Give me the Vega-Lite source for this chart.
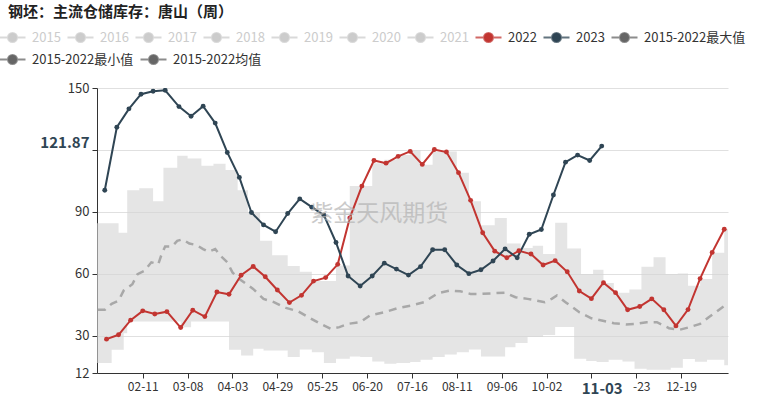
{
  "$schema": "https://vega.github.io/schema/vega-lite/v6.json",
  "width": 631,
  "height": 285,
  "autosize": {"type": "none"},
  "padding": {"left": 97, "top": 88, "right": 32, "bottom": 24},
  "background": "#ffffff",
  "config": {
    "font": "Noto Sans CJK SC",
    "view": {"stroke": null}
  },
  "title": {
    "text": "钢坯：主流仓储库存：唐山（周）",
    "anchor": "start",
    "frame": "group",
    "dx": -89,
    "dy": -7,
    "fontSize": 15,
    "fontWeight": "bold",
    "color": "#222222",
    "font": "Noto Sans CJK SC"
  },
  "datasets": {
    "band": [
      {"d": "2024-01-15", "value": 84.5, "low": 16.8},
      {"d": "2024-01-24", "value": 84.5, "low": 23.3},
      {"d": "2024-01-28", "value": 79.9, "low": 23.3},
      {"d": "2024-01-31", "value": 79.9, "low": 31.3},
      {"d": "2024-02-02", "value": 100.5, "low": 36.9},
      {"d": "2024-02-09", "value": 101.4, "low": 36.9},
      {"d": "2024-02-17", "value": 95.2, "low": 36.9},
      {"d": "2024-02-23", "value": 111.4, "low": 36.9},
      {"d": "2024-03-02", "value": 117.2, "low": 36.9},
      {"d": "2024-03-04", "value": 117.2, "low": 34.2},
      {"d": "2024-03-08", "value": 115.9, "low": 34.2},
      {"d": "2024-03-10", "value": 115.9, "low": 36.9},
      {"d": "2024-03-16", "value": 112.4, "low": 36.9},
      {"d": "2024-03-23", "value": 113.3, "low": 36.9},
      {"d": "2024-03-30", "value": 110.3, "low": 36.9},
      {"d": "2024-04-01", "value": 110.3, "low": 23.3},
      {"d": "2024-04-06", "value": 100.5, "low": 23.3},
      {"d": "2024-04-08", "value": 100.5, "low": 20.5},
      {"d": "2024-04-12", "value": 89.7, "low": 20.5},
      {"d": "2024-04-15", "value": 89.7, "low": 23.7},
      {"d": "2024-04-19", "value": 76, "low": 23.7},
      {"d": "2024-04-21", "value": 76, "low": 22.9},
      {"d": "2024-04-26", "value": 69, "low": 22.9},
      {"d": "2024-05-05", "value": 63.8, "low": 19.7},
      {"d": "2024-05-12", "value": 61, "low": 23.4},
      {"d": "2024-05-19", "value": 56.5, "low": 22.1},
      {"d": "2024-05-26", "value": 56.5, "low": 16.8},
      {"d": "2024-06-02", "value": 64, "low": 18.9},
      {"d": "2024-06-10", "value": 102.5, "low": 20},
      {"d": "2024-06-16", "value": 102.5, "low": 19.7},
      {"d": "2024-06-23", "value": 113.6, "low": 17.6},
      {"d": "2024-06-30", "value": 115.3, "low": 16.5},
      {"d": "2024-07-07", "value": 117.5, "low": 16.8},
      {"d": "2024-07-15", "value": 119.8, "low": 17.3},
      {"d": "2024-07-21", "value": 112.8, "low": 18.4},
      {"d": "2024-07-28", "value": 119.3, "low": 19.7},
      {"d": "2024-08-04", "value": 119.3, "low": 21},
      {"d": "2024-08-11", "value": 109, "low": 22.1},
      {"d": "2024-08-18", "value": 95.2, "low": 23.4},
      {"d": "2024-08-25", "value": 83.6, "low": 20},
      {"d": "2024-09-02", "value": 87, "low": 20},
      {"d": "2024-09-08", "value": 87, "low": 24.5},
      {"d": "2024-09-09", "value": 74.7, "low": 24.5},
      {"d": "2024-09-14", "value": 74.7, "low": 26.5},
      {"d": "2024-09-17", "value": 72.5, "low": 26.5},
      {"d": "2024-09-21", "value": 72.5, "low": 29.4},
      {"d": "2024-09-24", "value": 73.6, "low": 29.4},
      {"d": "2024-09-30", "value": 69.6, "low": 30.4},
      {"d": "2024-10-07", "value": 84.7, "low": 34.3},
      {"d": "2024-10-14", "value": 72.3, "low": 34.3},
      {"d": "2024-10-18", "value": 72.3, "low": 18.9},
      {"d": "2024-10-22", "value": 59.9, "low": 18.9},
      {"d": "2024-10-25", "value": 59.9, "low": 17.8},
      {"d": "2024-10-29", "value": 62, "low": 17.8},
      {"d": "2024-10-31", "value": 62, "low": 17.3},
      {"d": "2024-11-04", "value": 55.6, "low": 17.3},
      {"d": "2024-11-07", "value": 55.6, "low": 18.4},
      {"d": "2024-11-10", "value": 50.8, "low": 18.4},
      {"d": "2024-11-15", "value": 50.8, "low": 17.6},
      {"d": "2024-11-19", "value": 52.4, "low": 17.6},
      {"d": "2024-11-22", "value": 52.4, "low": 14.1},
      {"d": "2024-11-26", "value": 63.5, "low": 14.1},
      {"d": "2024-11-29", "value": 63.5, "low": 13.6},
      {"d": "2024-12-03", "value": 68, "low": 13.6},
      {"d": "2024-12-10", "value": 59.9, "low": 13.6},
      {"d": "2024-12-13", "value": 59.9, "low": 14.6},
      {"d": "2024-12-17", "value": 60.2, "low": 14.6},
      {"d": "2024-12-20", "value": 60.2, "low": 18.8},
      {"d": "2024-12-23", "value": 54.3, "low": 18.8},
      {"d": "2024-12-27", "value": 54.3, "low": 17.5},
      {"d": "2024-12-30", "value": 57.5, "low": 17.5},
      {"d": "2025-01-03", "value": 57.5, "low": 18.4},
      {"d": "2025-01-06", "value": 70.2, "low": 18.4},
      {"d": "2025-01-13", "value": 81.6, "low": 15.7},
      {"d": "2025-01-16", "value": 81.6, "low": 15.7}
    ],
    "mean": [
      {"d": "2024-01-16", "value": 42.6}, {"d": "2024-01-20", "value": 42.6}, {"d": "2024-01-24", "value": 45.5},
      {"d": "2024-01-28", "value": 47}, {"d": "2024-01-31", "value": 52}, {"d": "2024-02-05", "value": 55},
      {"d": "2024-02-08", "value": 59.9}, {"d": "2024-02-12", "value": 61.5}, {"d": "2024-02-16", "value": 65.6},
      {"d": "2024-02-20", "value": 64.7}, {"d": "2024-02-22", "value": 69.6}, {"d": "2024-02-24", "value": 73.3},
      {"d": "2024-02-28", "value": 73.3}, {"d": "2024-03-02", "value": 76}, {"d": "2024-03-05", "value": 76.7},
      {"d": "2024-03-09", "value": 74.7}, {"d": "2024-03-13", "value": 74}, {"d": "2024-03-17", "value": 72},
      {"d": "2024-03-20", "value": 70.7}, {"d": "2024-03-24", "value": 72}, {"d": "2024-03-27", "value": 68.8},
      {"d": "2024-03-31", "value": 65.6}, {"d": "2024-04-03", "value": 60.7}, {"d": "2024-04-07", "value": 57.5},
      {"d": "2024-04-15", "value": 52.7}, {"d": "2024-04-21", "value": 47.9}, {"d": "2024-04-27", "value": 46.3},
      {"d": "2024-05-04", "value": 43.5}, {"d": "2024-05-11", "value": 41.9}, {"d": "2024-05-17", "value": 39},
      {"d": "2024-05-24", "value": 35.8}, {"d": "2024-05-30", "value": 33.4}, {"d": "2024-06-04", "value": 34.2},
      {"d": "2024-06-09", "value": 35.8}, {"d": "2024-06-16", "value": 36.6}, {"d": "2024-06-22", "value": 40},
      {"d": "2024-06-30", "value": 41.4}, {"d": "2024-07-08", "value": 43.5}, {"d": "2024-07-15", "value": 44.6},
      {"d": "2024-07-23", "value": 46.3}, {"d": "2024-07-31", "value": 50.6}, {"d": "2024-08-07", "value": 51.9},
      {"d": "2024-08-13", "value": 51.6}, {"d": "2024-08-19", "value": 50.3}, {"d": "2024-08-25", "value": 50.3},
      {"d": "2024-09-01", "value": 50.6}, {"d": "2024-09-08", "value": 50.9}, {"d": "2024-09-14", "value": 48.7},
      {"d": "2024-09-21", "value": 47.9}, {"d": "2024-10-01", "value": 46.3}, {"d": "2024-10-05", "value": 47.9},
      {"d": "2024-10-08", "value": 49.5}, {"d": "2024-10-13", "value": 46.3}, {"d": "2024-10-21", "value": 41.4},
      {"d": "2024-10-28", "value": 38.5}, {"d": "2024-11-03", "value": 37.4}, {"d": "2024-11-10", "value": 36.1},
      {"d": "2024-11-17", "value": 35.5}, {"d": "2024-11-23", "value": 35.8}, {"d": "2024-11-29", "value": 36.6},
      {"d": "2024-12-05", "value": 36.6}, {"d": "2024-12-12", "value": 33.7}, {"d": "2024-12-18", "value": 32.9},
      {"d": "2024-12-24", "value": 34.2}, {"d": "2024-12-30", "value": 35.8}, {"d": "2025-01-04", "value": 39},
      {"d": "2025-01-08", "value": 41.4}, {"d": "2025-01-14", "value": 45.1}
    ],
    "series": [
      {"d": "2024-01-21", "series": "2022", "value": 28.4}, {"d": "2024-01-28", "series": "2022", "value": 30.5},
      {"d": "2024-02-04", "series": "2022", "value": 37.6}, {"d": "2024-02-11", "series": "2022", "value": 42.1},
      {"d": "2024-02-18", "series": "2022", "value": 40.6}, {"d": "2024-02-25", "series": "2022", "value": 41.7},
      {"d": "2024-03-04", "series": "2022", "value": 34}, {"d": "2024-03-11", "series": "2022", "value": 42.4},
      {"d": "2024-03-18", "series": "2022", "value": 39.3}, {"d": "2024-03-25", "series": "2022", "value": 51.2},
      {"d": "2024-04-01", "series": "2022", "value": 50.1}, {"d": "2024-04-08", "series": "2022", "value": 59.3},
      {"d": "2024-04-15", "series": "2022", "value": 63.6}, {"d": "2024-04-22", "series": "2022", "value": 58.6},
      {"d": "2024-04-29", "series": "2022", "value": 52.2}, {"d": "2024-05-06", "series": "2022", "value": 46.1},
      {"d": "2024-05-13", "series": "2022", "value": 49.6}, {"d": "2024-05-20", "series": "2022", "value": 56.5},
      {"d": "2024-05-27", "series": "2022", "value": 58.2}, {"d": "2024-06-03", "series": "2022", "value": 64.6},
      {"d": "2024-06-10", "series": "2022", "value": 87.1}, {"d": "2024-06-17", "series": "2022", "value": 102.5},
      {"d": "2024-06-24", "series": "2022", "value": 114.9}, {"d": "2024-07-01", "series": "2022", "value": 113.6},
      {"d": "2024-07-08", "series": "2022", "value": 116.9}, {"d": "2024-07-15", "series": "2022", "value": 119.3},
      {"d": "2024-07-22", "series": "2022", "value": 113}, {"d": "2024-07-29", "series": "2022", "value": 120.2},
      {"d": "2024-08-05", "series": "2022", "value": 119}, {"d": "2024-08-12", "series": "2022", "value": 109},
      {"d": "2024-08-19", "series": "2022", "value": 95.6}, {"d": "2024-08-26", "series": "2022", "value": 79.9},
      {"d": "2024-09-02", "series": "2022", "value": 71}, {"d": "2024-09-09", "series": "2022", "value": 67.8},
      {"d": "2024-09-16", "series": "2022", "value": 71.2}, {"d": "2024-09-23", "series": "2022", "value": 69.6},
      {"d": "2024-09-30", "series": "2022", "value": 64.3}, {"d": "2024-10-07", "series": "2022", "value": 66.4},
      {"d": "2024-10-14", "series": "2022", "value": 61}, {"d": "2024-10-21", "series": "2022", "value": 51.7},
      {"d": "2024-10-28", "series": "2022", "value": 48}, {"d": "2024-11-04", "series": "2022", "value": 55.7},
      {"d": "2024-11-11", "series": "2022", "value": 50.9}, {"d": "2024-11-18", "series": "2022", "value": 42.6},
      {"d": "2024-11-25", "series": "2022", "value": 44.2}, {"d": "2024-12-02", "series": "2022", "value": 47.9},
      {"d": "2024-12-09", "series": "2022", "value": 42.6}, {"d": "2024-12-16", "series": "2022", "value": 34.8},
      {"d": "2024-12-23", "series": "2022", "value": 42.7}, {"d": "2024-12-30", "series": "2022", "value": 57.7},
      {"d": "2025-01-06", "series": "2022", "value": 70.4}, {"d": "2025-01-13", "series": "2022", "value": 81.6},
      {"d": "2024-01-20", "series": "2023", "value": 100.5}, {"d": "2024-01-27", "series": "2023", "value": 131},
      {"d": "2024-02-03", "series": "2023", "value": 139.9}, {"d": "2024-02-10", "series": "2023", "value": 147},
      {"d": "2024-02-17", "series": "2023", "value": 148.4}, {"d": "2024-02-24", "series": "2023", "value": 148.9},
      {"d": "2024-03-03", "series": "2023", "value": 141}, {"d": "2024-03-10", "series": "2023", "value": 136.3},
      {"d": "2024-03-17", "series": "2023", "value": 141.2}, {"d": "2024-03-24", "series": "2023", "value": 133},
      {"d": "2024-03-31", "series": "2023", "value": 118.8}, {"d": "2024-04-07", "series": "2023", "value": 106.7},
      {"d": "2024-04-14", "series": "2023", "value": 89.7}, {"d": "2024-04-21", "series": "2023", "value": 83.7},
      {"d": "2024-04-28", "series": "2023", "value": 80.4}, {"d": "2024-05-05", "series": "2023", "value": 89.2},
      {"d": "2024-05-12", "series": "2023", "value": 96.3}, {"d": "2024-05-19", "series": "2023", "value": 92.3},
      {"d": "2024-05-26", "series": "2023", "value": 88.4}, {"d": "2024-06-02", "series": "2023", "value": 75.2},
      {"d": "2024-06-09", "series": "2023", "value": 59}, {"d": "2024-06-16", "series": "2023", "value": 54.1},
      {"d": "2024-06-23", "series": "2023", "value": 59}, {"d": "2024-06-30", "series": "2023", "value": 65.2},
      {"d": "2024-07-07", "series": "2023", "value": 62.3}, {"d": "2024-07-14", "series": "2023", "value": 59.4},
      {"d": "2024-07-21", "series": "2023", "value": 63.5}, {"d": "2024-07-28", "series": "2023", "value": 71.7},
      {"d": "2024-08-04", "series": "2023", "value": 71.7}, {"d": "2024-08-11", "series": "2023", "value": 64.3},
      {"d": "2024-08-18", "series": "2023", "value": 60.1}, {"d": "2024-08-25", "series": "2023", "value": 62},
      {"d": "2024-09-01", "series": "2023", "value": 66.2}, {"d": "2024-09-08", "series": "2023", "value": 72.1},
      {"d": "2024-09-15", "series": "2023", "value": 67.8}, {"d": "2024-09-22", "series": "2023", "value": 79.2},
      {"d": "2024-09-29", "series": "2023", "value": 81.5}, {"d": "2024-10-06", "series": "2023", "value": 98.2},
      {"d": "2024-10-13", "series": "2023", "value": 114.1}, {"d": "2024-10-20", "series": "2023", "value": 117.5},
      {"d": "2024-10-27", "series": "2023", "value": 114.9}, {"d": "2024-11-03", "series": "2023", "value": 121.87}
    ],
    "mark": [
      {"d": "2024-06-27", "value": 89, "label": "紫金天风期货"}
    ]
  },
  "encoding": {
    "x": {
      "field": "d",
      "type": "temporal",
      "scale": {
        "type": "utc",
        "domain": [
          {"year": 2024, "month": 1, "date": 15, "hours": 12, "utc": true},
          {"year": 2025, "month": 1, "date": 15, "hours": 4, "utc": true}
        ]
      },
      "axis": {
        "title": null,
        "grid": false,
        "values": [
          {"year": 2024, "month": 2, "date": 11, "utc": true},
          {"year": 2024, "month": 3, "date": 8, "utc": true},
          {"year": 2024, "month": 4, "date": 3, "utc": true},
          {"year": 2024, "month": 4, "date": 29, "utc": true},
          {"year": 2024, "month": 5, "date": 25, "utc": true},
          {"year": 2024, "month": 6, "date": 20, "utc": true},
          {"year": 2024, "month": 7, "date": 16, "utc": true},
          {"year": 2024, "month": 8, "date": 11, "utc": true},
          {"year": 2024, "month": 9, "date": 6, "utc": true},
          {"year": 2024, "month": 10, "date": 2, "utc": true},
          {"year": 2024, "month": 10, "date": 28, "utc": true},
          {"year": 2024, "month": 11, "date": 3, "utc": true},
          {"year": 2024, "month": 11, "date": 23, "utc": true},
          {"year": 2024, "month": 12, "date": 19, "utc": true}
        ],
        "labelExpr": "(utcmonth(datum.value) == 9 && utcdate(datum.value) == 28) ? '' : ((utcmonth(datum.value) == 10 && utcdate(datum.value) == 23) ? '-23' : utcFormat(datum.value, '%m-%d'))",
        "labelOverlap": false,
        "labelFlush": false,
        "domainColor": "#333333",
        "tickSize": 5,
        "tickColor": "#333333",
        "tickOpacity": {"condition": {"test": "utcmonth(datum.value) == 10 && utcdate(datum.value) == 3", "value": 0}, "value": 1},
        "labelPadding": 3,
        "labelFontSize": {"condition": {"test": "utcmonth(datum.value) == 10 && utcdate(datum.value) == 3", "value": 15}, "value": 12},
        "labelFontWeight": {"condition": {"test": "utcmonth(datum.value) == 10 && utcdate(datum.value) == 3", "value": "bold"}, "value": "normal"},
        "labelColor": {"condition": {"test": "utcmonth(datum.value) == 10 && utcdate(datum.value) == 3", "value": "#2f4554"}, "value": "#333333"},
        "labelOffset": {"condition": {"test": "utcmonth(datum.value) == 10 && utcdate(datum.value) == 23", "value": 5}, "value": 0}
      }
    },
    "y": {
      "field": "value",
      "type": "quantitative",
      "scale": {"domain": [12, 150], "nice": false, "zero": false},
      "axis": {
        "title": null,
        "values": [12, 30, 60, 90, 120, 121.87, 150],
        "labelExpr": "datum.value == 120 ? '' : (datum.value == 121.87 ? '121.87' : datum.label)",
        "labelOverlap": false,
        "labelFlush": false,
        "domainColor": "#333333",
        "tickColor": "#333333",
        "tickSize": 5,
        "tickOpacity": {"condition": {"test": "datum.value == 121.87", "value": 0}, "value": 1},
        "gridColor": "#e0e0e0",
        "gridOpacity": {"condition": {"test": "datum.value == 121.87", "value": 0}, "value": 1},
        "labelPadding": 3,
        "labelFontSize": {"condition": {"test": "datum.value == 121.87", "value": 15}, "value": 13},
        "labelFontWeight": {"condition": {"test": "datum.value == 121.87", "value": "bold"}, "value": "normal"},
        "labelColor": {"condition": {"test": "datum.value == 121.87", "value": "#2f4554"}, "value": "#333333"},
        "labelOffset": {"condition": {"test": "datum.value == 121.87", "value": -4}, "value": 0}
      }
    }
  },
  "layer": [
    {
      "data": {"name": "band"},
      "mark": {"type": "area", "interpolate": "step-after", "fill": "#d4d4d4", "opacity": 0.6, "clip": true},
      "encoding": {"y2": {"field": "low"}}
    },
    {
      "data": {"name": "mean"},
      "mark": {"type": "line", "stroke": "#a8a8a8", "strokeWidth": 2.5, "strokeDash": [8, 6], "clip": true}
    },
    {
      "data": {"values": []},
      "mark": {"type": "line", "strokeWidth": 2, "clip": true},
      "encoding": {
        "stroke": {
          "field": "kind",
          "type": "nominal",
          "scale": {
            "domain": ["2015-2022最小值", "2015-2022均值"],
            "range": ["#666666", "#666666"]
          },
          "legend": {
            "title": null,
            "orient": "none",
            "legendX": -91,
            "legendY": -35,
            "direction": "horizontal",
            "padding": 0,
            "columnPadding": 2,
            "symbolType": "M-2.6,0H2.6M0.9,0A0.9,0.9,0,1,1,-0.9,0A0.9,0.9,0,1,1,0.9,0Z",
            "symbolSize": 100,
            "labelOffset": 13,
            "labelFontSize": 13,
            "labelFont": "Noto Sans CJK SC",
            "labelColor": "#333333",
            "encode": {
              "symbols": {
                "update": {
                  "fill": {"value": "#666666"},
                  "stroke": {"value": "#666666"},
                  "strokeWidth": {"value": 2},
                  "strokeOpacity": {"value": 0.75},
                  "opacity": {"value": 1}
                }
              }
            }
          }
        }
      }
    },
    {
      "data": {"name": "series"},
      "mark": {"type": "line", "strokeWidth": 2, "clip": true, "point": {"filled": true, "size": 24}},
      "encoding": {
        "color": {
          "field": "series",
          "type": "nominal",
          "scale": {
            "domain": ["2015", "2016", "2017", "2018", "2019", "2020", "2021", "2022", "2023", "2015-2022最大值"],
            "range": ["#cccccc", "#cccccc", "#cccccc", "#cccccc", "#cccccc", "#cccccc", "#cccccc", "#c23531", "#2f4554", "#666666"]
          },
          "legend": {
            "title": null,
            "orient": "none",
            "legendX": -91,
            "legendY": -57,
            "direction": "horizontal",
            "padding": 0,
            "columnPadding": 2,
            "symbolType": "M-2.6,0H2.6M0.9,0A0.9,0.9,0,1,1,-0.9,0A0.9,0.9,0,1,1,0.9,0Z",
            "symbolSize": 100,
            "labelOffset": 13,
            "labelFontSize": 13,
            "labelFont": "Noto Sans CJK SC",
            "encode": {
              "symbols": {
                "update": {
                  "fill": {"scale": "color", "field": "value"},
                  "stroke": {"scale": "color", "field": "value"},
                  "strokeWidth": {"value": 2},
                  "strokeOpacity": {"value": 0.75},
                  "opacity": {"value": 1}
                }
              },
              "labels": {
                "update": {
                  "fill": {"signal": "indexof(['2015','2016','2017','2018','2019','2020','2021'], datum.value) >= 0 ? '#cccccc' : '#333333'"}
                }
              }
            }
          }
        }
      }
    },
    {
      "data": {"name": "mark"},
      "mark": {"type": "text", "fontSize": 23, "fill": "#b4b4b4", "opacity": 0.7, "font": "Noto Sans CJK SC"},
      "encoding": {
        "text": {"field": "label"}
      }
    }
  ]
}
